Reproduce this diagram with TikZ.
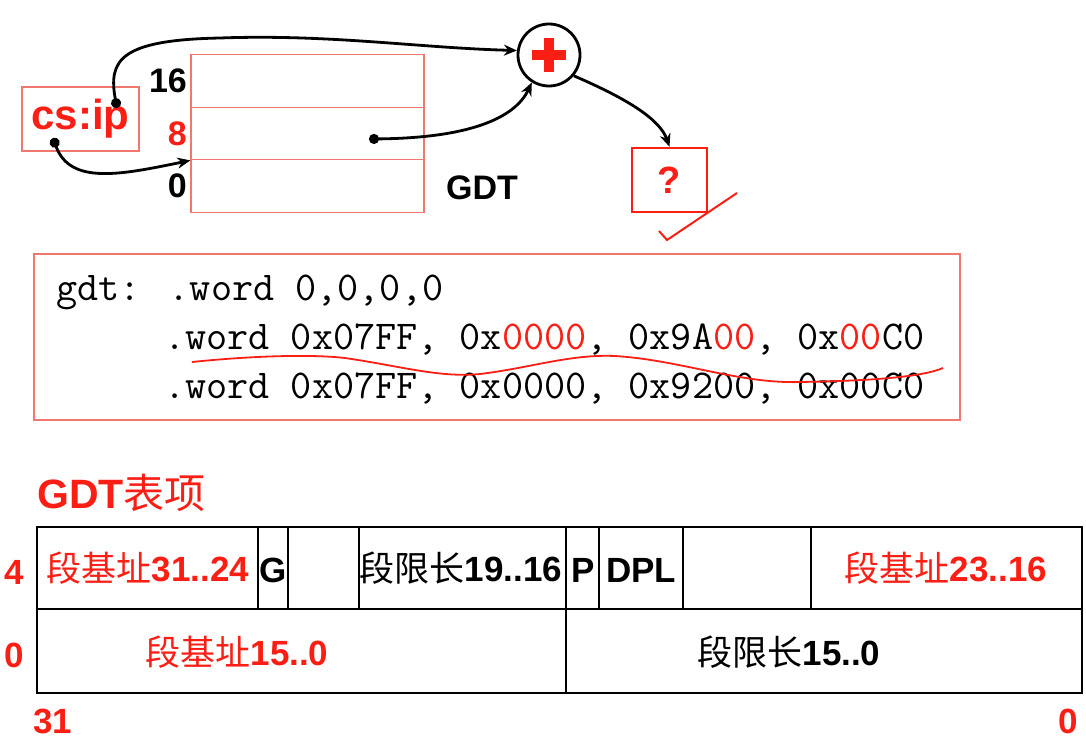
\documentclass[tikz,border=0pt]{standalone}
\usepackage{fontspec}
\setmainfont{Liberation Sans}
\newfontfamily\cjk{Noto Sans CJK SC}
\usetikzlibrary{arrows.meta}
\definecolor{hlred}{RGB}{250,30,20}
\definecolor{boxred}{RGB}{240,120,110}
\begin{document}
\begin{tikzpicture}[x=1pt,y=-1pt,
  thinbox/.style={draw=boxred,line width=1.3pt},
  lbl/.style={font=\fontsize{34}{34}\selectfont\bfseries},
  codeline/.style={anchor=base west,inner sep=0pt,
    font=\fontsize{41}{41}\selectfont\ttfamily\addfontfeatures{FakeBold=2.5}},
  ptr/.style={line width=2.8pt,{Circle[length=10pt]}-{Stealth[length=13pt,width=11pt]}},
  field/.style={font=\fontsize{35}{35}\selectfont\bfseries},
  redfield/.style={field,text=hlred}]
  \useasboundingbox (0,0) rectangle (1086,746);
  % selector and descriptor table
  \node[thinbox,minimum width=117pt,minimum height=64pt,text=hlred,inner sep=0pt,
        font=\fontsize{42}{42}\selectfont\bfseries] (csip) at (80.5,119) {cs:ip};
  \node[thinbox,minimum width=233pt,minimum height=52.5pt] (row16) at (307.5,81) {};
  \node[thinbox,minimum width=233pt,minimum height=52.5pt] (row8) at (307.5,133.5) {};
  \node[thinbox,minimum width=233pt,minimum height=52.5pt] (row0) at (307.5,186) {};
  \node[lbl,anchor=east] at (row16.west) {16};
  \node[lbl,anchor=east,text=hlred] at (row8.west) {8};
  \node[lbl,anchor=east] at (row0.west) {0};
  \node[lbl] (gdtname) at (482,188) {GDT};
  \coordinate (ipdot) at (117,108);
  \coordinate (csdot) at (53,138);
  \coordinate (descdot) at (369,139);
  % adder
  \node[circle,draw,line width=2.8pt,minimum size=62pt] (adder) at (549,55) {};
  \fill[hlred] (532,50) rectangle (566,60);
  \fill[hlred] (544,38) rectangle (554,72);
  \node[draw=hlred,line width=2.5pt,minimum width=75pt,minimum height=64pt,
        text=hlred,font=\fontsize{38}{38}\selectfont\bfseries] (result) at (669.5,180) {?};
  \draw[hlred,line width=2pt] (659,231) -- (667,240) -- (737,193);
  % arrows
  \draw[ptr] (ipdot) .. controls (108,60) and (120,40) .. (220,38)
    .. controls (330,34) and (420,48) .. (adder.172);
  \draw[ptr] (csdot) .. controls (70,185) and (120,175) .. (row8.south west);
  \draw[ptr] (descdot) .. controls (470,138) and (515,118) .. (adder.238);
  \draw[line width=2.8pt,-{Stealth[length=13pt,width=11pt]}] (adder.-40)
    .. controls (630,100) and (660,120) .. (result.north);
  % code
  \node[thinbox,minimum width=926pt,minimum height=166pt] (code) at (497,337) {};
  \node[codeline] (line0) at (56,300) {gdt: .word 0,0,0,0};
  \node[codeline] (line1) at (164,349) {.word 0x07FF, 0x\textcolor{hlred}{0000}, 0x9A\textcolor{hlred}{00}, 0x\textcolor{hlred}{00}C0};
  \node[codeline] (line2) at (164,398) {.word 0x07FF, 0x0000, 0x9200, 0x00C0};
  \draw[hlred,line width=1.8pt] (192,362) .. controls (250,356) and (310,354) .. (345,358)
    .. controls (400,366) and (440,378) .. (480,374)
    .. controls (530,368) and (570,354) .. (615,356)
    .. controls (680,360) and (740,384) .. (800,382)
    .. controls (860,381) and (920,378) .. (943,368);
  % descriptor layout
  \node[anchor=south west,inner sep=0pt,text=hlred,font=\fontsize{41}{41}\selectfont\bfseries]
    (entryname) at (37,512) {GDT{\cjk\mdseries 表项}};
  \draw[line width=2.5pt] (37,527) rectangle (1082,693);
  \draw[line width=2.5pt] (37,609) -- (1082,609);
  \foreach \x in {258,288,359,566,599,683,811}
    \draw[line width=2.5pt] (\x,527) -- (\x,609);
  \draw[line width=2.5pt] (566,609) -- (566,693);
  \node[redfield] (base3124) at (148,568) {{\cjk\mdseries 段基址}31..24};
  \node[field] (gbit) at (273,570) {G};
  \node[field] (lim1916) at (461,568) {{\cjk\mdseries 段限长}19..16};
  \node[field] (pbit) at (583,570) {P};
  \node[field] (dpl) at (641,570) {DPL};
  \node[redfield] (base2316) at (946,568) {{\cjk\mdseries 段基址}23..16};
  \node[redfield] (base150) at (237,652) {{\cjk\mdseries 段基址}15..0};
  \node[field] (lim150) at (789,652) {{\cjk\mdseries 段限长}15..0};
  \node[redfield] (off4) at (14,572) {4};
  \node[redfield] (off0) at (14,655) {0};
  \node[redfield] (bit31) at (53,721) {31};
  \node[redfield] (bit0) at (1068,721) {0};
\end{tikzpicture}
\end{document}
